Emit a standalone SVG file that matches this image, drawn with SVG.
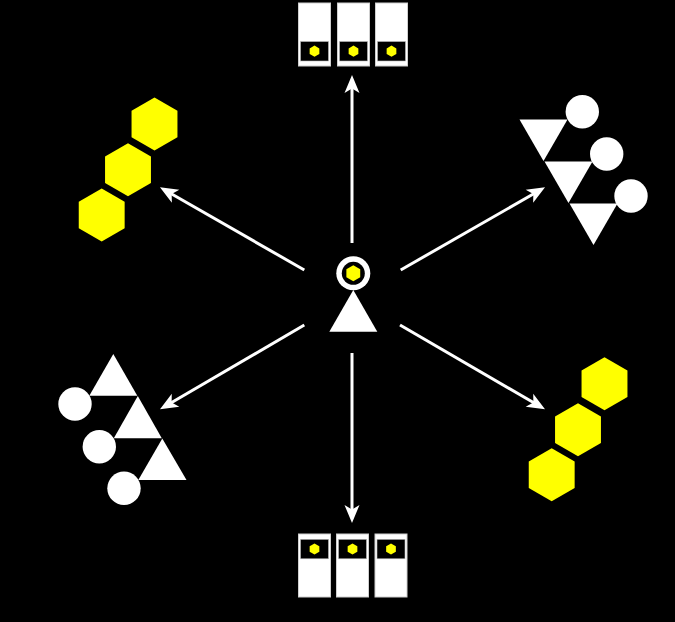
<svg xmlns="http://www.w3.org/2000/svg" xmlns:xlink="http://www.w3.org/1999/xlink" width="675" height="622" viewBox="0 0 675 622">
  <style>
    .srv { fill: #ffffff; stroke: #cfcfcf; stroke-width: 1; }
    .win { fill: #000000; stroke: #bdbdbd; stroke-width: 0.6; }
    .yel { fill: #ffff00; }
    .wht { fill: #ffffff; }
    .conn { stroke: #ffffff; stroke-width: 3; fill: none; marker-end: url(#arrow); }
  </style>
  <defs>
    <marker id="arrow" viewBox="-20 -10 30 20" markerWidth="30" markerHeight="20" refX="0" refY="0" markerUnits="userSpaceOnUse" orient="auto">
      <path d="M8,0 L-10,-7.5 L-5.5,0 L-10,7.5 Z" fill="#ffffff"/>
    </marker>
    <polygon id="hexBig" points="0,-26.5 22.95,-13.25 22.95,13.25 0,26.5 -22.95,13.25 -22.95,-13.25"/>
    <polygon id="hexSmall" points="0,-5.6 4.85,-2.8 4.85,2.8 0,5.6 -4.85,2.8 -4.85,-2.8"/>
    <polygon id="hexMid" points="0,-8 6.93,-4 6.93,4 0,8 -6.93,4 -6.93,-4"/>
  </defs>
  <rect x="0" y="0" width="675" height="622" fill="#000000"/>

  <g id="connectors">
    <line class="conn" x1="352" y1="243" x2="352" y2="83"/>
    <line class="conn" x1="352" y1="353" x2="352" y2="515"/>
    <line class="conn" x1="304.3" y1="270" x2="166.9" y2="191.3"/>
    <line class="conn" x1="400.7" y1="270" x2="538.1" y2="191.3"/>
    <line class="conn" x1="304.3" y1="325" x2="166.9" y2="405.3"/>
    <line class="conn" x1="400" y1="325" x2="538.1" y2="405.3"/>
  </g>

  <g id="center">
    <circle cx="353.3" cy="273.3" r="17" class="wht"/>
    <circle cx="353.3" cy="273.3" r="11.5" fill="#000000"/>
    <use xlink:href="#hexMid" x="353.3" y="273.3" class="yel"/>
    <polygon points="353.3,290 377.3,331.7 329.3,331.7" class="wht"/>
  </g>

  <g id="servers-top">
    <rect x="298.5" y="3" width="32" height="63" class="srv"/>
    <rect x="300.5" y="41.5" width="28" height="19.5" class="win"/>
    <use xlink:href="#hexSmall" x="314.5" y="51.2" class="yel"/>
    <rect x="337.5" y="3" width="32" height="63" class="srv"/>
    <rect x="339.5" y="41.5" width="28" height="19.5" class="win"/>
    <use xlink:href="#hexSmall" x="353.5" y="51.2" class="yel"/>
    <rect x="375.5" y="3" width="32" height="63" class="srv"/>
    <rect x="377.5" y="41.5" width="28" height="19.5" class="win"/>
    <use xlink:href="#hexSmall" x="391.5" y="51.2" class="yel"/>
  </g>

  <g id="servers-bottom">
    <rect x="298.5" y="534" width="32" height="63" class="srv"/>
    <rect x="300.5" y="539.3" width="28" height="19.5" class="win"/>
    <use xlink:href="#hexSmall" x="314.5" y="549" class="yel"/>
    <rect x="336.5" y="534" width="32" height="63" class="srv"/>
    <rect x="338.5" y="539.3" width="28" height="19.5" class="win"/>
    <use xlink:href="#hexSmall" x="352.5" y="549" class="yel"/>
    <rect x="375" y="534" width="32" height="63" class="srv"/>
    <rect x="377" y="539.3" width="28" height="19.5" class="win"/>
    <use xlink:href="#hexSmall" x="391" y="549" class="yel"/>
  </g>

  <g id="hexes-upper-left" class="yel">
    <use xlink:href="#hexBig" x="154.5" y="124"/>
    <use xlink:href="#hexBig" x="128" y="169.7"/>
    <use xlink:href="#hexBig" x="101.7" y="215"/>
  </g>

  <g id="hexes-lower-right" class="yel">
    <use xlink:href="#hexBig" x="604.5" y="383.7"/>
    <use xlink:href="#hexBig" x="578" y="429.7"/>
    <use xlink:href="#hexBig" x="551.7" y="474.8"/>
  </g>

  <g id="tri-upper-right" class="wht">
    <polygon points="519.5,119.5 567.5,119.5 543.5,161"/>
    <polygon points="544.5,161.5 592.5,161.5 568.5,203"/>
    <polygon points="569.5,203.5 617.5,203.5 593.5,245"/>
    <circle cx="582.3" cy="111.7" r="16.7"/>
    <circle cx="606.7" cy="154" r="16.7"/>
    <circle cx="631" cy="196" r="16.7"/>
  </g>

  <g id="tri-lower-left" class="wht">
    <polygon points="113.3,354 137.3,395.7 89.3,395.7"/>
    <polygon points="137.8,396 161.8,438.3 113.8,438.3"/>
    <polygon points="162.3,438.5 186.5,480 138.3,480"/>
    <circle cx="75" cy="404" r="16.7"/>
    <circle cx="99.3" cy="446.7" r="16.7"/>
    <circle cx="124" cy="488.3" r="16.7"/>
  </g>
</svg>
